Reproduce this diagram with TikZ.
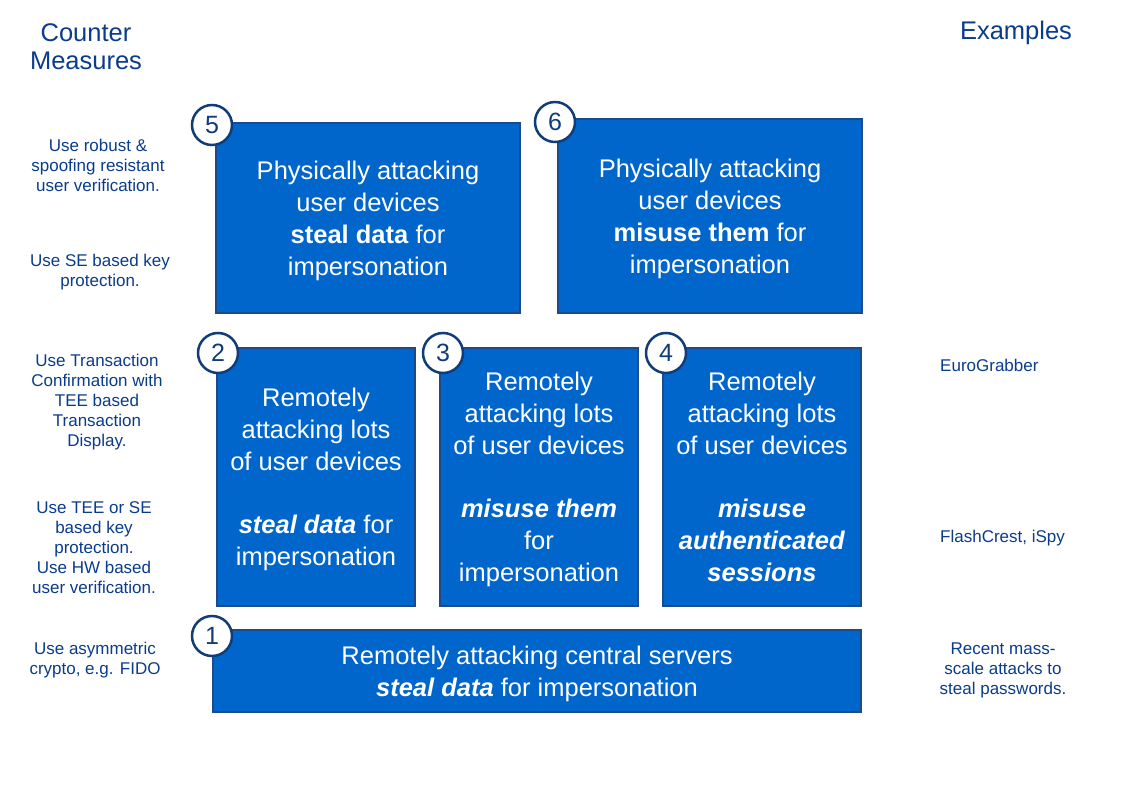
\documentclass[tikz,border=0pt]{standalone}
\usepackage{fontspec}
\setmainfont{Liberation Sans}
\definecolor{boxfill}{RGB}{0,102,204}
\definecolor{boxedge}{RGB}{28,74,140}
\definecolor{numedge}{RGB}{16,60,120}
\definecolor{inktext}{RGB}{10,60,140}
% invisible struts that even out the first line height and last line depth
\newcommand\lowerstrut{\rule{0pt}{23.5pt}}
\newcommand\descstrut{\rule[-5.4pt]{0pt}{0pt}}
\begin{document}
\begin{tikzpicture}[x=1pt,y=-1pt,
  attack/.style={draw=boxedge, fill=boxfill, line width=2pt, text=white,
    align=center, inner sep=0pt, font=\fontsize{25.5}{32}\selectfont},
  num/.style={circle, draw=numedge, fill=white, line width=2.5pt,
    minimum size=40pt, inner sep=0pt, text=numedge,
    font=\fontsize{25}{30}\selectfont},
  note/.style={text=inktext, align=center, inner sep=0pt,
    font=\fontsize{17}{20}\selectfont},
  head/.style={text=inktext, align=center, inner sep=0pt,
    font=\fontsize{25.5}{28}\selectfont}]

% canvas
\path[use as bounding box, fill=white] (0,0) rectangle (1123,794);

% column headings
\node[head] (hcm) at (86,47) {Counter\\Measures};
\node[head] (hex) at (1016,33) {Examples};

% attack boxes
\node[attack, minimum width=304pt, minimum height=190pt] (b5) at (368,218)
  {\lowerstrut Physically attacking\\user devices\\\textbf{steal data} for\\impersonation};
\node[attack, minimum width=304pt, minimum height=194pt] (b6) at (710,216)
  {\lowerstrut Physically attacking\\user devices\\\textbf{misuse them} for\\impersonation};
\node[attack, minimum width=198pt, minimum height=258pt] (b2) at (316,477)
  {\lowerstrut Remotely\\attacking lots\\of user devices\\[31pt]\textbf{\textit{steal data}} for\\impersonation};
\node[attack, minimum width=198pt, minimum height=258pt] (b3) at (539,477)
  {\lowerstrut Remotely\\attacking lots\\of user devices\\[31pt]\textbf{\textit{misuse them}}\\for\\impersonation};
\node[attack, minimum width=198pt, minimum height=258pt] (b4) at (762,477)
  {\lowerstrut Remotely\\attacking lots\\of user devices\\[31pt]\textbf{\textit{misuse}}\\\textbf{\textit{authenticated}}\\\textbf{\textit{sessions}}\descstrut};
\node[attack, minimum width=648pt, minimum height=82pt] (b1) at (537,671)
  {\lowerstrut Remotely attacking central servers\\\textbf{\textit{steal data}} for impersonation};

% numbered badges
\node[num] (n5) at (212,125) {5};
\node[num] (n6) at (555,122) {6};
\node[num] (n2) at (218,353) {2};
\node[num] (n3) at (443,353) {3};
\node[num] (n4) at (666,353) {4};
\node[num] (n1) at (212,636) {1};

% counter measures
\node[note] (c5) at (98,165) {Use robust \&\\spoofing resistant\\user verification.};
\node[note] (c6) at (100,272) {Use SE based key\\protection.};
\node[note] (c4) at (97,402) {Use Transaction\\Confirmation with\\TEE based\\Transaction\\Display.};
\node[note] (c23) at (94,548) {Use TEE or SE\\based key\\protection.\\Use HW based\\user verification.};
\node[note] (c1) at (95,660) {Use asymmetric\\crypto, e.g. FIDO};

% examples
\node[note, anchor=west] (e4) at (940,365) {EuroGrabber};
\node[note, anchor=west] (e23) at (940,538) {FlashCrest, iSpy};
\node[note] (e1) at (1003,670) {Recent mass-\\scale attacks to\\steal passwords.};
\end{tikzpicture}
\end{document}
